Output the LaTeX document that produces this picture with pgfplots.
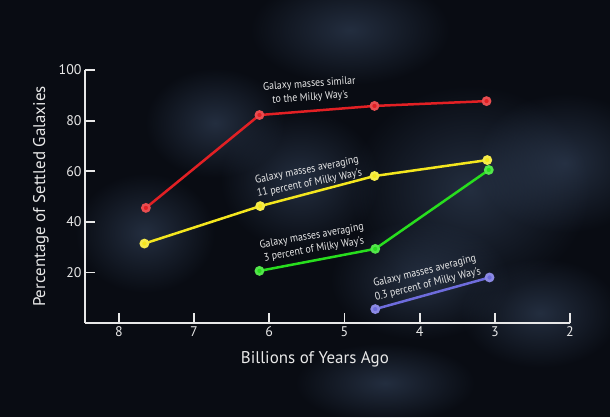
\documentclass[border=0pt]{standalone}
\usepackage{fontspec}
\setmainfont{PT Sans}
\newfontfamily\annfont[FakeStretch=0.9]{PT Sans}
\usepackage{pgfplots}
\pgfplotsset{compat=1.18}
\usetikzlibrary{fadings}
\tikzfading[name=cloudfade, inner color=transparent!0, outer color=transparent!100]

\definecolor{bgdark}{RGB}{9,12,19}
\definecolor{cloud}{RGB}{62,80,108}
\definecolor{axiswhite}{RGB}{232,232,232}
\definecolor{cred}{RGB}{226,32,36}
\definecolor{cyellow}{RGB}{244,230,30}
\definecolor{cgreen}{RGB}{40,222,30}
\definecolor{cblue}{RGB}{110,108,220}

\begin{document}
\begin{tikzpicture}[x=1bp,y=1bp]
% backdrop: dark sky with faint clouds (image px (X,Y) -> (X-85, 323-Y))
\fill[bgdark] (-85,-94) rectangle (525,323);
\useasboundingbox (-85,-94) rectangle (525,323);
\begin{scope}[opacity=0.5]
  \fill[cloud, path fading=cloudfade] (385,133) ellipse (120 and 105);
  \fill[cloud, path fading=cloudfade] (480,160) ellipse (90 and 70);
  \fill[cloud, path fading=cloudfade] (265,293) ellipse (100 and 55);
  \fill[cloud, path fading=cloudfade] (335,43) ellipse (90 and 60);
  \fill[cloud, path fading=cloudfade] (215,143) ellipse (80 and 70);
  \fill[cloud, path fading=cloudfade] (130,200) ellipse (70 and 55);
  \fill[cloud, path fading=cloudfade] (455,10) ellipse (80 and 55);
  \fill[cloud, path fading=cloudfade] (60,90) ellipse (70 and 60);
  \fill[cloud, path fading=cloudfade] (300,-60) ellipse (90 and 40);
\end{scope}

\begin{axis}[
    at={(0,0)}, anchor=south west,
    width=485bp, height=253bp, scale only axis,
    x dir=reverse,
    xmin=2, xmax=8.45,
    ymin=0, ymax=100,
    axis x line*=bottom, axis y line*=left,
    axis line style={axiswhite, line width=2bp},
    xtick={2,3,...,8}, ytick={20,40,60,80,100},
    tick align=inside,
    major tick length=10bp,
    tick style={axiswhite, line width=1.8bp},
    ticklabel style={font=\fontsize{14}{16}\selectfont, text=axiswhite},
    /pgf/number format/assume math mode=true,
    xlabel={Billions of Years Ago},
    ylabel={Percentage of Settled Galaxies},
    every axis x label/.style={at={(axis description cs:0.474,-0.142)}, anchor=center,
        font=\fontsize{17}{19}\selectfont, text=axiswhite},
    every axis y label/.style={at={(axis description cs:-0.0907,0.5)}, rotate=90, anchor=center,
        font=\fontsize{17}{19}\selectfont, text=axiswhite},
    clip=false,
    every axis plot/.append style={line width=2.5bp, mark=*, mark size=3.6bp},
  ]
\addplot[cred, mark options={fill=cred, draw=cred!80!white}] coordinates {
  (7.64,45.5) (6.13,82.2) (4.60,85.8) (3.11,87.7)
};
\addplot[cyellow, mark options={fill=cyellow, draw=cyellow!80!white}] coordinates {
  (7.66,31.4) (6.12,46.2) (4.60,58.1) (3.10,64.4)
};
\addplot[cgreen, mark options={fill=cgreen, draw=cgreen!80!white}] coordinates {
  (6.13,20.6) (4.59,29.3) (3.08,60.5)
};
\addplot[cblue, mark options={fill=cblue, draw=cblue!80!white}] coordinates {
  (4.59,5.5) (3.07,18.0)
};

\begin{scope}[every node/.style={text=axiswhite, align=center,
      font=\annfont\fontsize{11}{13.5}\selectfont, inner sep=0pt}]
\node[rotate=4]    at (axis cs:5.46,91.7) {Galaxy masses similar\\to the Milky Way's};
\node[rotate=11.5] at (axis cs:5.48,57.7) {Galaxy masses averaging\\11 percent of Milky Way's};
\node[rotate=10]   at (axis cs:5.42,31.6) {Galaxy masses averaging\\3 percent of Milky Way's};
\node[rotate=14]   at (axis cs:3.91,17.8) {Galaxy masses averaging\\0.3 percent of Milky Way's};
\end{scope}
\end{axis}
\end{tikzpicture}
\end{document}
